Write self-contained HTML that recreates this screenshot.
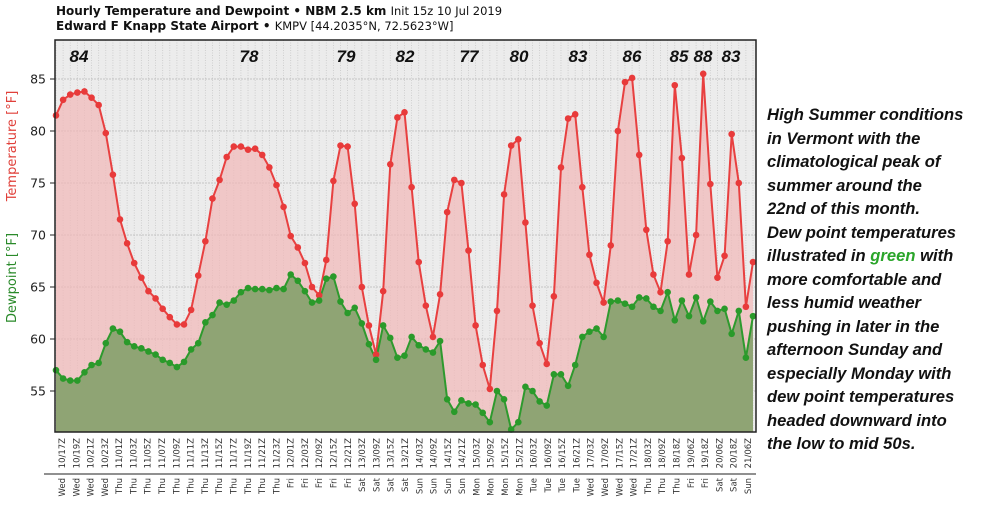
<!DOCTYPE html>
<html><head><meta charset="utf-8"><style>
body{margin:0;background:#fff;width:995px;height:502px;overflow:hidden;font-family:"DejaVu Sans","Liberation Sans",sans-serif}
</style></head><body>
<svg id="s" width="995" height="502" xmlns="http://www.w3.org/2000/svg" font-family="DejaVu Sans, Liberation Sans, sans-serif">
<text x="56" y="15" font-size="12" font-weight="bold" fill="#111">Hourly Temperature and Dewpoint • NBM 2.5 km <tspan font-weight="normal" font-size="11.5">Init 15z 10 Jul 2019</tspan></text>
<text x="56" y="30" font-size="12" font-weight="bold" fill="#111">Edward F Knapp State Airport • <tspan font-weight="normal" font-size="11.5">KMPV [44.2035°N, 72.5623°W]</tspan></text>
<rect x="55" y="40" width="701" height="392" fill="#ececec"/>
<g id="grid"></g>
<g id="data"></g>
<rect x="55" y="40" width="701" height="392" fill="none" stroke="#222" stroke-width="1.5"/>
<text transform="translate(16,146) rotate(-90)" text-anchor="middle" font-size="13" fill="#e0403a">Temperature [°F]</text>
<text transform="translate(16,278) rotate(-90)" text-anchor="middle" font-size="13" fill="#2a8a2a">Dewpoint [°F]</text>
<line x1="44" y1="474" x2="756" y2="474" stroke="#222" stroke-width="1"/>
<g id="lab" font-size="8.5" fill="#333"></g>
<g font-size="16.6" font-weight="bold" font-style="italic" fill="#111" font-family="Liberation Sans, sans-serif">
<text x="767" y="120">High Summer conditions</text>
<text x="767" y="144">in Vermont with the</text>
<text x="767" y="167">climatological peak of</text>
<text x="767" y="191">summer around the</text>
<text x="767" y="214">22nd of this month.</text>
<text x="767" y="238">Dew point temperatures</text>
<text x="767" y="261">illustrated in <tspan fill="#2aa52a">green</tspan> with</text>
<text x="767" y="285">more comfortable and</text>
<text x="767" y="308">less humid weather</text>
<text x="767" y="332">pushing in later in the</text>
<text x="767" y="355">afternoon Sunday and</text>
<text x="767" y="379">especially Monday with</text>
<text x="767" y="402">dew point temperatures</text>
<text x="767" y="426">headed downward into</text>
<text x="767" y="449">the low to mid 50s.</text>
</g>
</svg>
<script>
const T=[81.5,83,83.5,83.7,83.8,83.2,82.5,79.8,75.8,71.5,69.2,67.3,65.9,64.6,63.9,62.9,62.1,61.4,61.4,62.8,66.1,69.4,73.5,75.3,77.5,78.5,78.5,78.2,78.3,77.7,76.5,74.8,72.7,69.9,68.8,67.3,65.0,64.2,67.6,75.2,78.6,78.5,73.0,65.0,61.3,58.5,64.6,76.8,81.3,81.8,74.6,67.4,63.2,60.2,64.3,72.2,75.3,75.0,68.5,61.3,57.5,55.2,62.7,73.9,78.6,79.2,71.2,63.2,59.6,57.6,64.1,76.5,81.2,81.6,74.6,68.1,65.4,63.5,69.0,80.0,84.7,85.1,77.7,70.5,66.2,64.5,69.4,84.4,77.4,66.2,70.0,85.5,74.9,65.9,68.0,79.7,75.0,63.1,67.4];
const D=[57.0,56.2,56.0,56.0,56.8,57.5,57.7,59.6,61.0,60.7,59.7,59.3,59.1,58.8,58.5,58.0,57.7,57.3,57.8,59.0,59.6,61.6,62.3,63.5,63.3,63.7,64.5,64.9,64.8,64.8,64.7,64.9,64.8,66.2,65.6,64.6,63.5,63.7,65.8,66.0,63.6,62.5,63.0,61.5,59.5,58.0,61.3,60.1,58.2,58.4,60.2,59.4,59.0,58.7,59.8,54.2,53.0,54.1,53.8,53.7,52.9,52.0,55.0,54.2,51.3,52.0,55.4,55.0,54.0,53.6,56.6,56.6,55.5,57.5,60.2,60.7,61.0,60.2,63.6,63.7,63.4,63.1,64.0,63.9,63.1,62.7,64.5,61.8,63.7,62.2,64.0,61.7,63.6,62.7,62.9,60.5,62.7,58.2,62.2];
const NS="http://www.w3.org/2000/svg";
const X=i=>56+i*(697/98), Y=t=>79+(85-t)*10.4;
function el(p,tag,a,txt){const e=document.createElementNS(NS,tag);for(const k in a)e.setAttribute(k,a[k]);if(txt!=null)e.textContent=txt;p.appendChild(e);return e;}
const g=document.getElementById('grid'),d=document.getElementById('data'),lab=document.getElementById('lab'),s=document.getElementById('s');
for(let i=0;i<99;i++)el(g,'line',{x1:X(i),y1:40,x2:X(i),y2:432,stroke:'#c8c8c8','stroke-width':0.8,'stroke-dasharray':'1,1.5'});
for(let v=55;v<=85;v+=5){el(g,'line',{x1:55,y1:Y(v),x2:756,y2:Y(v),stroke:'#c4c4c4','stroke-width':1,'stroke-dasharray':'2,1'});
 el(s,'line',{x1:50,y1:Y(v),x2:55,y2:Y(v),stroke:'#222'});el(s,'text',{x:46,y:Y(v)+4.5,'text-anchor':'end','font-size':12.5,fill:'#222'},v);}
const pt=a=>a.map((v,i)=>X(i).toFixed(1)+','+Y(v).toFixed(1)).join(' ');
el(d,'polygon',{points:'56,432 '+pt(T)+' '+X(98)+',432',fill:'#f2b8b8','fill-opacity':0.7});
el(d,'polygon',{points:'56,432 '+pt(D)+' '+X(98)+',432',fill:'#8fa474'});
el(d,'polyline',{points:pt(T),fill:'none',stroke:'#e84040','stroke-width':2});
el(d,'polyline',{points:pt(D),fill:'none',stroke:'#2e9a2e','stroke-width':2});
T.forEach((v,i)=>el(d,'circle',{cx:X(i),cy:Y(v),r:3.3,fill:'#e83a3a'}));
D.forEach((v,i)=>el(d,'circle',{cx:X(i),cy:Y(v),r:3.3,fill:'#2a9a2a'}));
[[79,84],[249,78],[346,79],[405,82],[469,77],[519,80],[578,83],[632,86],[679,85],[703,88],[731,83]].forEach(([x,v])=>el(s,'text',{x:x,y:62,'text-anchor':'middle','font-size':17,'font-weight':'bold','font-style':'italic',fill:'#111','font-family':'Liberation Sans, sans-serif'},v));
const L=['10/17Z','10/19Z','10/21Z','10/23Z','11/01Z','11/03Z','11/05Z','11/07Z','11/09Z','11/11Z','11/13Z','11/15Z','11/17Z','11/19Z','11/21Z','11/23Z','12/01Z','12/03Z','12/09Z','12/15Z','12/21Z','13/03Z','13/09Z','13/15Z','13/21Z','14/03Z','14/09Z','14/15Z','14/21Z','15/03Z','15/09Z','15/15Z','15/21Z','16/03Z','16/09Z','16/15Z','16/21Z','17/03Z','17/09Z','17/15Z','17/21Z','18/03Z','18/09Z','18/18Z','19/06Z','19/18Z','20/06Z','20/18Z','21/06Z'];
const Dy='Wed Wed Wed Wed Thu Thu Thu Thu Thu Thu Thu Thu Thu Thu Thu Thu Fri Fri Fri Fri Fri Sat Sat Sat Sat Sun Sun Sun Sun Mon Mon Mon Mon Tue Tue Tue Tue Wed Wed Wed Wed Thu Thu Thu Fri Fri Sat Sat Sun'.split(' ');
L.forEach((t,i)=>{const x=62+i*14.29+3;
 el(lab,'text',{transform:`translate(${x},438) rotate(-90)`,'text-anchor':'end'},t);
 el(lab,'text',{transform:`translate(${x},478) rotate(-90)`,'text-anchor':'end'},Dy[i]);});
</script>
</body></html>
